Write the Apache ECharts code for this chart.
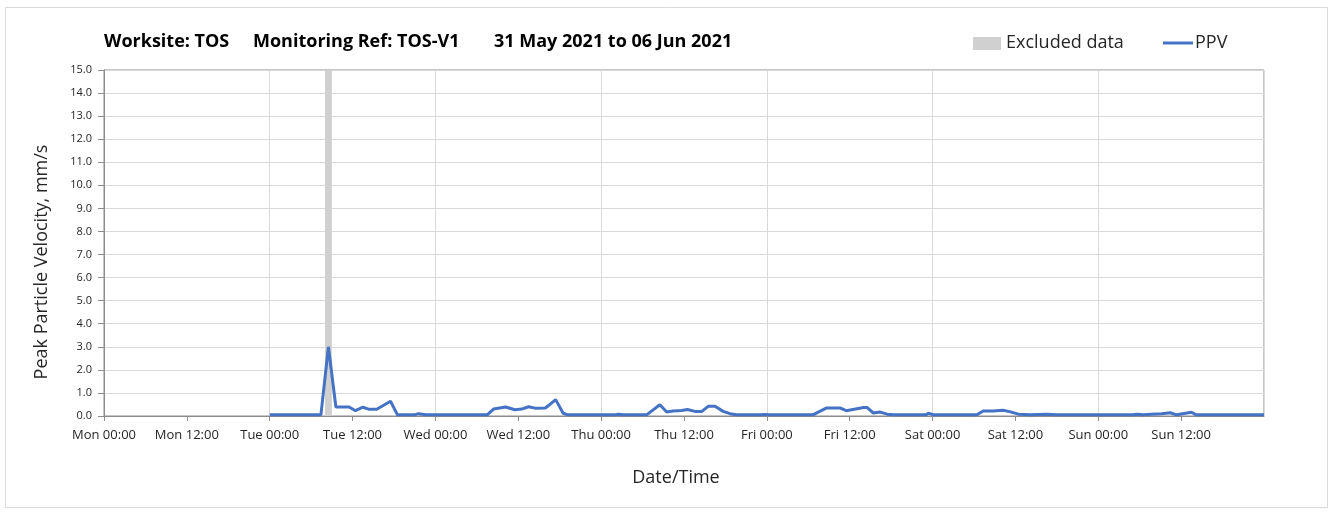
<!DOCTYPE html>
<html>
<head>
<meta charset="utf-8">
<script src="https://cdn.jsdelivr.net/npm/echarts@6/dist/echarts.min.js"></script>
<style>
  html, body { margin: 0; padding: 0; background: #ffffff; }
  #chart { width: 1334px; height: 512px; }
</style>
</head>
<body>
<div id="chart"></div>
<script>
// Monitoring period start (Monday 00:00)
const periodStart = '2021-05-31 00:00';
const periodHours = 168;

// Heading parts
const headingParts = ['Worksite: TOS', 'Monitoring Ref: TOS-V1', '31 May 2021 to 06 Jun 2021'];

// Weekday names used for the x-axis tick labels
const dayNames = ['Mon', 'Tue', 'Wed', 'Thu', 'Fri', 'Sat', 'Sun', 'Mon'];

// Y-axis scale
const yMin = 0, yMax = 15, yStep = 1;

// Excluded data window
const excludedStart = '2021-06-01 08:00';
const excludedEnd = '2021-06-01 09:00';

// PPV readings (mm/s)
const times = [
  '2021-06-01 00:00', '2021-06-01 07:25', '2021-06-01 08:30', '2021-06-01 09:35',
  '2021-06-01 11:30', '2021-06-01 12:25', '2021-06-01 13:30', '2021-06-01 14:25',
  '2021-06-01 15:30', '2021-06-01 17:30', '2021-06-01 18:30', '2021-06-01 21:00',
  '2021-06-01 21:30', '2021-06-01 22:40',
  '2021-06-02 07:30', '2021-06-02 08:25', '2021-06-02 10:10', '2021-06-02 11:30',
  '2021-06-02 12:30', '2021-06-02 13:30', '2021-06-02 14:25', '2021-06-02 15:55',
  '2021-06-02 16:35', '2021-06-02 17:25', '2021-06-02 18:30', '2021-06-02 19:10',
  '2021-06-03 02:00', '2021-06-03 02:30', '2021-06-03 03:10', '2021-06-03 06:35',
  '2021-06-03 08:30', '2021-06-03 09:30', '2021-06-03 10:25', '2021-06-03 11:40',
  '2021-06-03 12:30', '2021-06-03 13:35', '2021-06-03 14:35', '2021-06-03 15:30',
  '2021-06-03 16:30', '2021-06-03 17:40', '2021-06-03 18:40', '2021-06-03 19:35',
  '2021-06-03 23:10', '2021-06-03 23:40', '2021-06-04 00:20',
  '2021-06-04 06:40', '2021-06-04 08:40', '2021-06-04 10:35', '2021-06-04 11:30',
  '2021-06-04 14:00', '2021-06-04 14:30', '2021-06-04 15:25', '2021-06-04 16:25',
  '2021-06-04 17:25', '2021-06-04 18:20', '2021-06-04 23:00', '2021-06-04 23:25',
  '2021-06-05 00:10', '2021-06-05 06:25', '2021-06-05 07:20', '2021-06-05 08:50',
  '2021-06-05 10:10', '2021-06-05 11:10', '2021-06-05 12:25', '2021-06-05 14:05',
  '2021-06-05 16:30', '2021-06-05 18:00',
  '2021-06-06 05:00', '2021-06-06 05:35', '2021-06-06 06:30', '2021-06-06 07:40',
  '2021-06-06 09:10', '2021-06-06 10:25', '2021-06-06 11:20', '2021-06-06 13:30',
  '2021-06-06 14:10', '2021-06-07 00:00'
];
const ppv = [
  0.05, 0.05, 3.00, 0.39,
  0.39, 0.23, 0.38, 0.29,
  0.29, 0.64, 0.05, 0.05,
  0.10, 0.05,
  0.05, 0.30, 0.39, 0.27,
  0.30, 0.40, 0.34, 0.35,
  0.50, 0.71, 0.12, 0.05,
  0.05, 0.08, 0.05, 0.05,
  0.49, 0.17, 0.22, 0.24,
  0.28, 0.20, 0.20, 0.42,
  0.42, 0.20, 0.10, 0.05,
  0.05, 0.07, 0.05,
  0.05, 0.35, 0.35, 0.23,
  0.37, 0.37, 0.13, 0.17,
  0.08, 0.05, 0.05, 0.12,
  0.05, 0.05, 0.22, 0.22,
  0.25, 0.19, 0.08, 0.05,
  0.08, 0.05,
  0.05, 0.08, 0.05, 0.08,
  0.10, 0.14, 0.05, 0.16,
  0.05, 0.05
];

// Convert a timestamp string into hours since the period start
function parseLocal(s) {
  const [d, t] = s.split(' ');
  const [y, mo, da] = d.split('-').map(Number);
  const [h, mi] = t.split(':').map(Number);
  return new Date(y, mo - 1, da, h, mi).getTime();
}
const t0 = parseLocal(periodStart);
const toHours = s => (parseLocal(s) - t0) / 3600000;

const seriesData = times.map((t, i) => [toHours(t), ppv[i]]);

const FONT = '"Open Sans", Lato, sans-serif';
const TEXT = '#262626';
const LINE_BLUE = '#4472c4';
const BAND_GREY = '#d0d0d0';

const chart = echarts.init(document.getElementById('chart'));

chart.setOption({
  animation: false,
  backgroundColor: '#ffffff',
  graphic: [
    // outer frame
    {
      type: 'rect',
      shape: { x: 5.5, y: 7.5, width: 1322, height: 500 },
      style: { fill: 'none', stroke: '#d9d9d9', lineWidth: 1 },
      silent: true, z: -10
    },
    // heading
    { type: 'text', x: 104, y: 42, style: { text: headingParts[0], font: 'bold 18px ' + FONT, fill: '#000', verticalAlign: 'middle' } },
    { type: 'text', x: 253, y: 42, style: { text: headingParts[1], font: 'bold 18px ' + FONT, fill: '#000', verticalAlign: 'middle' } },
    { type: 'text', x: 494, y: 42, style: { text: headingParts[2], font: 'bold 18px ' + FONT, fill: '#000', verticalAlign: 'middle' } },
    // legend: excluded data swatch
    { type: 'rect', shape: { x: 973, y: 37, width: 28, height: 13 }, style: { fill: BAND_GREY } },
    { type: 'text', x: 1006, y: 43, style: { text: 'Excluded data', font: '18px ' + FONT, fill: TEXT, verticalAlign: 'middle' } },
    // legend: PPV line
    { type: 'line', shape: { x1: 1163, y1: 43, x2: 1193, y2: 43 }, style: { stroke: LINE_BLUE, lineWidth: 3 } },
    { type: 'text', x: 1195, y: 43, style: { text: 'PPV', font: '18px ' + FONT, fill: TEXT, verticalAlign: 'middle' } },
    // y-axis title
    {
      type: 'text', x: 42, y: 262, rotation: Math.PI / 2,
      style: { text: 'Peak Particle Velocity, mm/s', font: '18px ' + FONT, fill: TEXT, align: 'center', verticalAlign: 'middle' }
    }
  ],
  grid: {
    left: 104,
    right: 70,
    top: 70,
    bottom: 96,
    show: true,
    borderColor: '#8c8c8c',
    borderWidth: 1
  },
  xAxis: [{
    type: 'value',
    min: 0,
    max: periodHours,
    interval: 12,
    name: 'Date/Time',
    nameLocation: 'middle',
    nameGap: 53,
    nameTextStyle: { fontFamily: FONT, fontSize: 18, color: TEXT, padding: [0, 16, 0, 0] },
    axisLine: { show: true, lineStyle: { color: '#8c8c8c', width: 1 } },
    axisTick: { show: true, length: 5, lineStyle: { color: '#8c8c8c' } },
    axisLabel: {
      fontFamily: FONT, fontSize: 13, color: TEXT, margin: 13,
      showMaxLabel: false,
      formatter: v => dayNames[Math.floor(v / 24)] + ' ' + (v % 24 === 0 ? '00:00' : '12:00')
    },
    splitLine: { show: false }
  }, {
    type: 'value',
    min: 0,
    max: periodHours,
    interval: 24,
    position: 'bottom',
    axisLine: { show: false },
    axisTick: { show: false },
    axisLabel: { show: false },
    splitLine: { show: true, lineStyle: { color: '#d9d9d9', width: 1 } }
  }],
  yAxis: {
    type: 'value',
    min: yMin,
    max: yMax,
    interval: yStep,
    axisLine: { show: true, lineStyle: { color: '#8c8c8c', width: 1 } },
    axisTick: { show: true, length: 6, lineStyle: { color: '#8c8c8c' } },
    axisLabel: {
      fontFamily: FONT, fontSize: 11, color: TEXT, margin: 12,
      formatter: v => v.toFixed(1)
    },
    splitLine: { show: true, lineStyle: { color: '#d9d9d9', width: 1 } }
  },
  series: [{
    name: 'Excluded data',
    type: 'line',
    xAxisIndex: 0,
    data: [],
    markArea: {
      silent: true,
      itemStyle: { color: BAND_GREY },
      data: [[{ xAxis: toHours(excludedStart) }, { xAxis: toHours(excludedEnd) }]]
    }
  }, {
    name: 'PPV',
    type: 'line',
    xAxisIndex: 0,
    data: seriesData,
    showSymbol: false,
    symbol: 'none',
    lineStyle: { color: LINE_BLUE, width: 3 },
    itemStyle: { color: LINE_BLUE },
    z: 5
  }]
});
</script>
</body>
</html>
